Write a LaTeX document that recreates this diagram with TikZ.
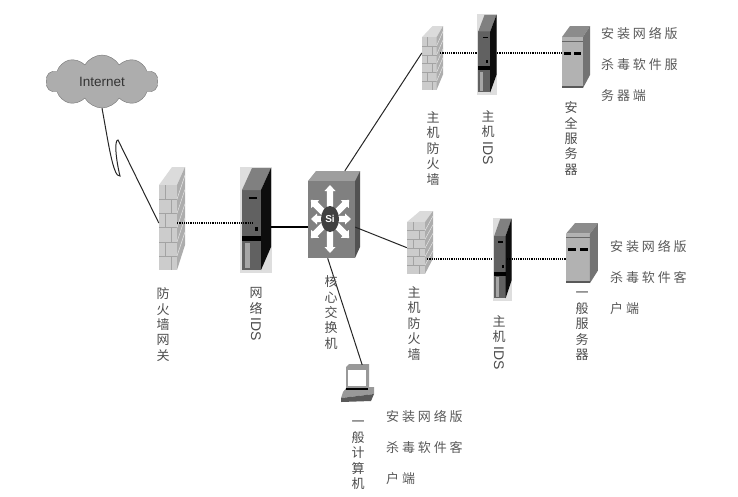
\documentclass[tikz,border=0pt]{standalone}
\usepackage{fontspec}
\usetikzlibrary{shapes.symbols}
\newfontfamily\cjk{Noto Sans CJK SC}
\newfontfamily\cjknote[LetterSpace=22]{Noto Sans CJK SC}
\newfontfamily\latin{Liberation Sans}
\newcommand{\idstext}{\rotatebox{-90}{\latin\fontsize{14}{15}\selectfont IDS}}

\tikzstyle{port}=[inner sep=0pt,minimum width=18pt,minimum height=40pt]
\tikzstyle{lbl}=[anchor=north,align=center,inner sep=0pt,text=black!70,font=\cjk\fontsize{13}{15.4}\selectfont]
\tikzstyle{note}=[anchor=north west,align=left,inner sep=0pt,text=black!65,font=\cjknote\fontsize{13}{31.3}\selectfont]
\tikzstyle{dotline}=[line width=1.8pt,dash pattern=on 1.2pt off 1pt]
\tikzstyle{wire}=[line width=1pt,black!85]

\tikzset{
  firewall/.pic={
    \fill[black!14] (0,18) -- (13,0) -- (26,0) -- (18,18) -- cycle;
    \fill[black!20] (0,18) rectangle (18,103);
    \fill[black!32] (18,18) -- (26,0) -- (26,78) -- (18,103) -- cycle;
    \foreach \k in {1,...,5}
      \draw[black!36,line width=0.4pt] (0,18+14.2*\k) -- (18,18+14.2*\k);
    \foreach \k in {1,3,5}
      \draw[black!36,line width=0.4pt] (6,18+14.2*\k-14.2) -- (6,18+14.2*\k);
    \foreach \k in {2,4,6}
      \draw[black!36,line width=0.4pt] (12,18+14.2*\k-14.2) -- (12,18+14.2*\k);
    \foreach \k in {1,...,5}
      \draw[black!10,line width=0.5pt] (18,18+14.2*\k) -- (26,18+14.2*\k-24);
  },
  idsbox/.pic={
    \fill[black!13] (0,0) rectangle (32,106);
    \fill[black!62] (2,23) rectangle (21,103);
    \fill[black!50] (2,23) -- (12,1) -- (31,1) -- (21,23) -- cycle;
    \fill[black!95] (21,23) -- (31,1) -- (31,80) -- (21,103) -- cycle;
    \fill[black] (2,69) rectangle (21,74);
    \fill[black] (9,30) rectangle (17,32);
    \fill[black] (15,60) rectangle (18,64);
    \fill[black!35] (5,76) rectangle (10,101);
  },
  server/.pic={
    \fill[black!45] (0,11) -- (8,0) -- (28,0) -- (21,11) -- cycle;
    \fill[black!30] (0,11) rectangle (21,62);
    \fill[black!55] (21,11) -- (28,0) -- (28,49) -- (21,62) -- cycle;
    \draw[black!60,line width=0.6pt] (0,15) -- (21,15);
    \fill[black] (2,25.5) rectangle (9,28.5);
    \fill[black] (12,25.5) rectangle (19,28.5);
    \fill[black!65] (0,60) rectangle (21,62);
  }
}

\begin{document}
\begin{tikzpicture}[x=1pt,y=-1pt]
\useasboundingbox (0,0) rectangle (738,496);
% connector ends
\node[port] (gatefw) at (168,223) {};
\node[port] (netids) at (262,227) {};
\node[port,minimum width=47pt,minimum height=87pt] (core) at (331.5,214.5) {};
\node[port] (upfw) at (431,53) {};
\node[port,minimum width=20pt] (upids) at (487,53) {};
\node[port,minimum width=28pt] (upsrv) at (576,53) {};
\node[port,minimum width=20pt] (lofw) at (417,259) {};
\node[port,minimum width=14pt] (loids) at (500,259) {};
\node[port,minimum width=24pt] (losrv) at (578,259) {};
\node[port,minimum width=23pt,minimum height=37pt] (pc) at (357.5,383.5) {};
\node[cloud,cloud puffs=10,cloud puff arc=120,aspect=2.1,draw=black!55,fill=black!32,inner sep=0pt,
  minimum width=112pt,minimum height=53pt,text=black!80,font=\latin\fontsize{13.5}{15}\selectfont] (cloud) at (102,81.5) {\raisebox{-5pt}{Internet}};

% devices
\pic at (159,167) {firewall};
\pic at (240,167) {idsbox};
\pic[xscale=0.81,yscale=0.62] at (422,26) {firewall};
\pic[xscale=0.63,yscale=0.76] at (477,14) {idsbox};
\pic at (562,26) {server};
\pic[yscale=0.61] at (407,211) {firewall};
\pic[xscale=0.6,yscale=0.78] at (493,218) {idsbox};
\pic[xscale=1.14,yscale=0.97] at (566,223) {server};

% core switch
\fill[black!38] (308,181) -- (316,171) -- (360,171) -- (355,181) -- cycle;
\fill[black!50] (308,181) rectangle (355,258);
\fill[black!68] (355,181) -- (360,171) -- (360,247) -- (355,258) -- cycle;
\foreach \ang/\len in {0/21,45/27,90/34,135/27,180/19,225/27,270/34,315/27}
  \fill[white,shift={(330,219)},rotate=\ang]
    (0,-3.2) -- (\len-6,-3.2) -- (\len-6,-5.5) -- (\len,0) -- (\len-6,5.5) -- (\len-6,3.2) -- (0,3.2) -- cycle;
\fill[black!75] (330,219) ellipse (9pt and 13pt);
\node[inner sep=0pt,text=white,font=\latin\bfseries\fontsize{10}{12}\selectfont] (si) at (330,219) {Si};

% computer
\fill[black!40] (346,367) -- (349,364) -- (369,364) -- (369,388) -- (346,390) -- cycle;
\fill[white] (348,370) rectangle (366,386);
\fill[black!40] (343,392) -- (347,387) -- (374,387) -- (374,394) -- (341,398) -- cycle;
\fill[black] (346,388) rectangle (368,390);
\fill[black!65] (341,398) -- (374,394) -- (371,401) -- (341,402) -- cycle;

% connectors
\draw[wire] (cloud.south) .. controls (108,140) and (113,178) .. (120,176)
  .. controls (116,160) and (114,140) .. (118,140) -- (gatefw.west);
\draw[dotline] (gatefw.east) -- (gatefw.east -| netids.west);
\draw[line width=1.8pt] (netids.east) -- (netids.east -| core.west);
\draw[wire] (core.73) -- (upfw.west);
\draw[wire] (core.-28) -- (lofw.132);
\draw[wire] (core.265) -- (pc.76);
\draw[dotline] (upfw.east) -- (upids.west);
\draw[dotline] (upids.east) -- (upsrv.west);
\draw[dotline] (lofw.east) -- (loids.west);
\draw[dotline] (loids.east) -- (losrv.west);

% 1st column
\node[lbl] (gatelbl) at (163,287.5) {防\\火\\墙\\网\\关};
\node[lbl] (netlbl) at (256,287.5) {网\\络\\[-11pt]\idstext};
\node[lbl] (corelbl) at (331,275.5) {核\\心\\交\\换\\机};
\node[lbl] (pclbl) at (358,421) {一\\般\\计\\算\\机};
\node[note] (pcnote) at (386,410) {安装网络版\\杀毒软件客\\户端};
% 2nd column
\node[lbl] (lofwlbl) at (414,286.5) {主\\机\\防\\火\\墙};
\node[lbl] (loidslbl) at (499,315.5) {主\\机\\[-11pt]\idstext};
\node[lbl] (losrvlbl) at (582,292) {一\\般\\服\\务\\器};
\node[note] (lonote) at (610,240) {安装网络版\\杀毒软件客\\户端};
% 3rd column
\node[lbl] (upfwlbl) at (433,111.5) {主\\机\\防\\火\\墙};
\node[lbl] (upidslbl) at (488,110.5) {主\\机\\[-11pt]\idstext};
\node[lbl] (upsrvlbl) at (571,101.5) {安\\全\\服\\务\\器};
\node[note] (upnote) at (601,27) {安装网络版\\杀毒软件服\\务器端};
\end{tikzpicture}
\end{document}
